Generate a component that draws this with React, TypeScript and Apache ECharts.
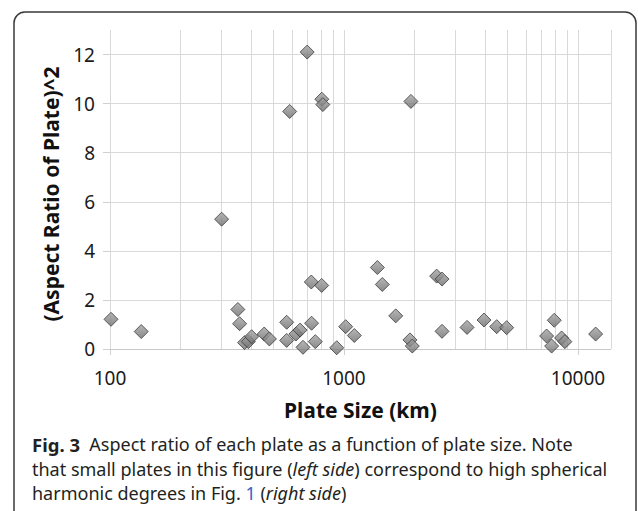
import React, { useEffect, useRef } from "react";
import * as echarts from "echarts";

const plateSizes = [696, 586, 804, 812, 1932, 101, 136, 300, 352, 358, 376, 390, 403, 456, 480, 569, 569, 623, 649, 668, 725, 803, 727, 754, 931, 1017, 1107, 1389, 1458, 1664, 1914, 1959, 2489, 2624, 2624, 3357, 3967, 4494, 4958, 7345, 7920, 7718, 8511, 8790, 11900];
const aspectSq = [12.1, 9.68, 10.18, 9.96, 10.09, 1.21, 0.71, 5.29, 1.61, 1.03, 0.26, 0.30, 0.50, 0.61, 0.41, 1.09, 0.35, 0.61, 0.77, 0.07, 2.73, 2.59, 1.05, 0.30, 0.05, 0.91, 0.55, 3.32, 2.63, 1.35, 0.37, 0.12, 2.97, 2.85, 0.72, 0.88, 1.18, 0.91, 0.87, 0.53, 1.17, 0.12, 0.45, 0.30, 0.61];

const xMin = 100;
const xMax = 13840;
const xLabelTicks = [100, 1000, 10000];
const xGridValues = [100, 200, 300, 400, 500, 600, 700, 800, 900, 1000, 2000, 3000, 4000, 5000, 6000, 7000, 8000, 9000, 10000, xMax];
const yMin = 0;
const yMax = 13;
const yTicks = [0, 2, 4, 6, 8, 10, 12];

const xTitle = "Plate Size (km)";
const yTitle = "(Aspect Ratio of Plate)^2";
const captionLines = [
  "{b|Fig. 3}  Aspect ratio of each plate as a function of plate size. Note",
  "that small plates in this figure ({i|left side}) correspond to high spherical",
  "harmonic degrees in Fig. {blue|1} ({i|right side})",
];

const FONT = "'Noto Sans', 'Open Sans', sans-serif";
const CAP = 18;

export default function App() {
  const ref = useRef<HTMLDivElement>(null);
  useEffect(() => {
    if (!ref.current) return;
    const chart = echarts.init(ref.current, null, { renderer: "svg" });
    const points = plateSizes.map((s, i) => [s, aspectSq[i]]);
    const captionRich = {
      b: { fontWeight: "bold", fontSize: CAP + 0.5, fontFamily: FONT, fill: "#231f20" },
      i: { fontStyle: "italic", fontSize: CAP, fontFamily: FONT, fill: "#231f20" },
      blue: { fontSize: CAP, fontFamily: FONT, fill: "#3a5fcd" },
    };
    chart.setOption({
      animation: false,
      backgroundColor: "#ffffff",
      grid: { left: 110, right: 27, top: 30, bottom: 162 },
      xAxis: {
        type: "log",
        logBase: 10,
        min: xMin,
        max: xMax,
        axisLine: { show: false },
        axisTick: { show: true, length: 6, lineStyle: { color: "#d0d0d0" }, customValues: xLabelTicks },
        splitLine: { show: false },
        axisLabel: {
          customValues: xLabelTicks,
          margin: 19,
          fontSize: 19,
          fontFamily: FONT,
          color: "#1a1a1a",
          formatter: (v: number) => {
            const r = Math.round(v);
            return xLabelTicks.indexOf(r) >= 0 ? String(r) : "";
          },
        },
      },
      yAxis: {
        type: "value",
        min: yMin,
        max: yMax,
        interval: 2,
        axisLine: { show: false },
        axisTick: { show: true, length: 7, lineStyle: { color: "#d0d0d0" }, customValues: yTicks },
        splitLine: { show: false },
        axisLabel: {
          customValues: yTicks,
          margin: 15,
          fontSize: 19,
          fontFamily: FONT,
          color: "#1a1a1a",
          formatter: (v: number) => (yTicks.indexOf(v) >= 0 ? String(v) : ""),
        },
      },
      series: [
        {
          type: "scatter",
          data: points,
          symbolSize: 0,
          silent: true,
          z: 1,
          itemStyle: { opacity: 0 },
          markLine: {
            silent: true,
            symbol: "none",
            z: 1,
            label: { show: false },
            lineStyle: { color: "#d9d9d9", width: 1, type: "solid" },
            emphasis: { disabled: true },
            data: [
              ...xGridValues.map((v) => ({ xAxis: v })),
              ...yTicks.map((v) => ({ yAxis: v, lineStyle: v === 0 ? { color: "#c8c8c8", width: 1.2, type: "solid" } : undefined })),
            ],
          },
        },
        {
          type: "scatter",
          data: points,
          symbol: "diamond",
          symbolSize: 14,
          z: 3,
          itemStyle: {
            color: new echarts.graphic.LinearGradient(0, 0, 0, 1, [
              { offset: 0, color: "#a4a4a4" },
              { offset: 1, color: "#6c6c6c" },
            ]),
            borderColor: "#3c3c3c",
            borderWidth: 1,
          },
        },
      ],
      graphic: [
        {
          type: "rect",
          shape: { x: 14, y: 12, width: 622, height: 540, r: 11 },
          style: { fill: "none", stroke: "#3a3a3a", lineWidth: 1.5 },
          silent: true,
        },
        {
          type: "text",
          x: 51,
          y: 194,
          rotation: Math.PI / 2,
          style: {
            text: yTitle,
            fontSize: 21,
            fontWeight: "bold",
            fontFamily: FONT,
            fill: "#111111",
            align: "center",
            verticalAlign: "middle",
          },
        },
        {
          type: "text",
          x: 360.5,
          y: 410,
          style: {
            text: xTitle,
            fontSize: 21,
            fontWeight: "bold",
            fontFamily: FONT,
            fill: "#111111",
            align: "center",
            verticalAlign: "middle",
          },
        },
        ...captionLines.map((line, i) => ({
          type: "text",
          x: 32,
          y: 444 + i * 24.5,
          style: {
            text: line,
            rich: captionRich,
            fontSize: CAP,
            fontFamily: FONT,
            fill: "#231f20",
            align: "left",
            verticalAlign: "middle",
          },
        })),
      ],
    });
    return () => chart.dispose();
  }, []);
  return (
    <div
      ref={ref}
      style={{ position: "absolute", left: 0, top: 0, width: 638, height: 511 }}
    />
  );
}
